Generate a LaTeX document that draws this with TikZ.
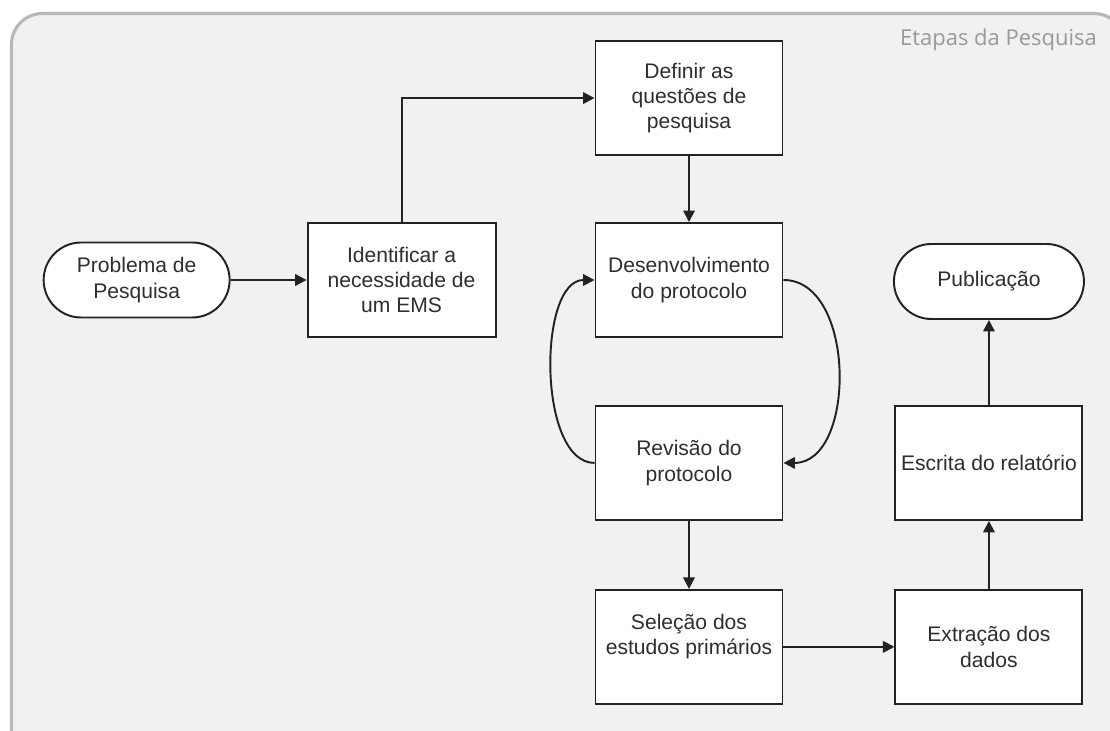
\documentclass[tikz,border=0pt]{standalone}
\usepackage{fontspec}
\setsansfont{Liberation Sans}
\newfontfamily\etapatitlefont{Open Sans}
\usetikzlibrary{arrows.meta,positioning}
\definecolor{etapaInk}{HTML}{2E2E2E}
\definecolor{etapaLine}{HTML}{222222}
\definecolor{etapaPanel}{HTML}{F1F1F1}
\definecolor{etapaEdge}{HTML}{B8B8B8}
\definecolor{etapaTitle}{HTML}{999999}

\begin{document}
\begin{tikzpicture}[
  font=\sffamily\fontsize{12}{14.4}\selectfont,
  etapa/.style={draw=etapaLine,fill=white,line width=1.1pt,minimum width=3.74cm,minimum height=2.28cm,align=center,text=etapaInk,inner sep=2pt},
  terminal/.style={draw=etapaLine,fill=white,line width=1.1pt,rounded corners=0.75cm,minimum height=1.5cm,minimum width=#1,align=center,text=etapaInk},
  arr/.style={-{Triangle[length=2.3mm,width=2.3mm]},line width=1.1pt,etapaLine}
]
  \useasboundingbox (0,0) rectangle (22.2,-14.62);
  % painel de fundo
  \begin{scope}
    \clip (0,0) rectangle (22.2,-14.62);
    \draw[etapaEdge,fill=etapaPanel,line width=1.8pt,rounded corners=0.62cm]
      (0.23,-15.4) -- (0.23,-0.27) -- (22.5,-0.27) -- (22.5,-14.9) -- cycle;
  \end{scope}
  \node[anchor=east,text=etapaTitle,font=\etapatitlefont\fontsize{12.5}{15}\selectfont] (title) at (22.06,-0.8) {Etapas da Pesquisa};

  \node[etapa] (desenv) at (13.78,-5.6) {Desenvolvimento\\do protocolo};
  \node[etapa,minimum width=3.76cm,left=1.96cm of desenv] (ident) {Identificar a\\necessidade de\\um EMS};
  \node[terminal=3.72cm,left=1.52cm of ident] (prob) {Problema de\\Pesquisa};
  \node[etapa,above=1.32cm of desenv] (definir) {Definir as\\quest\~oes de\\pesquisa};
  \node[etapa,below=1.34cm of desenv] (revisao) {Revis\~ao do\\protocolo};
  \node[etapa,below=1.36cm of revisao] (selecao) {Sele\c{c}\~ao dos\\estudos prim\'arios\\\mbox{}};
  \node[etapa,right=2.22cm of selecao] (extracao) {Extra\c{c}\~ao dos\\dados};
  \node[etapa,above=1.36cm of extracao] (escrita) {Escrita do relat\'orio};
  \node[terminal=3.8cm,above=1.7cm of escrita] (pub) {Publica\c{c}\~ao};

  \draw[arr] (prob) -- (ident);
  \draw[arr] (ident.north) |- (definir.west);
  \draw[arr] (definir) -- (desenv);
  \draw[arr] (desenv.east) .. controls +(1.46,0) and +(1.46,0) .. (revisao.east);
  \draw[arr] (revisao.west) .. controls +(-1.14,0) and +(-1.14,0) .. (desenv.west);
  \draw[arr] (revisao) -- (selecao);
  \draw[arr] (selecao) -- (extracao);
  \draw[arr] (extracao) -- (escrita);
  \draw[arr] (escrita) -- (pub);
\end{tikzpicture}
\end{document}
